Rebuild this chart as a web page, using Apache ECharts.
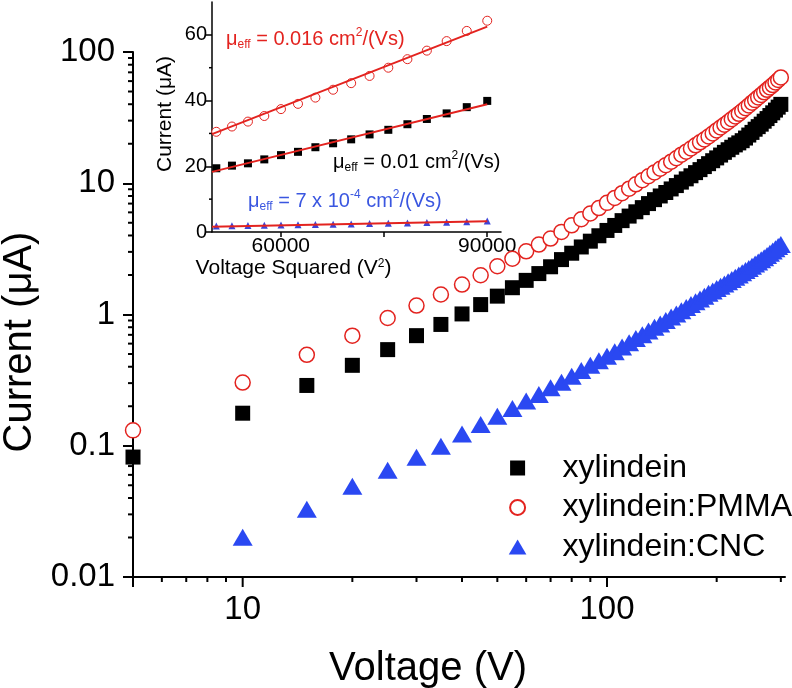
<!DOCTYPE html>
<html>
<head>
<meta charset="utf-8">
<script src="https://cdn.jsdelivr.net/npm/echarts@6/dist/echarts.min.js"></script>
<style>
html,body{margin:0;padding:0;background:#fff;}
#chart{width:792px;height:688px;}
</style>
</head>
<body>
<div id="chart"></div>
<script>
// ---------- main chart data (Voltage in V, Current in µA) ----------
const voltage = [5,10,15,20,25,30,35,40,45,50,55,60,65,70,75,80,85,90,95,100,
  105,110,115,120,125,130,135,140,145,150,155,160,165,170,175,180,185,190,195,200,
  205,210,215,220,225,230,235,240,245,250,255,260,265,270,275,280,285,290,295,300];
const currentXylindein = [0.082,0.177,0.288,0.41,0.54,0.69,0.84,1.01,1.19,1.38,1.60,1.82,2.05,2.31,2.62,2.93,3.27,3.62,3.98,4.37,
  4.77,5.19,5.62,6.06,6.52,7.0,7.5,8.0,8.5,9.05,9.6,10.2,10.8,11.4,12.05,12.7,13.4,14.1,14.85,15.6,
  16.4,17.2,18.0,18.8,19.6,20.3,21.1,22.1,23.3,24.4,25.8,27.0,28.2,29.7,31.1,32.8,34.4,36.1,38.0,39.9];
const currentPMMA = [0.131,0.303,0.493,0.69,0.94,1.17,1.42,1.69,1.99,2.33,2.66,3.03,3.41,3.79,4.26,4.78,5.32,5.88,6.47,7.09,
  7.73,8.40,9.09,9.81,10.55,11.31,12.1,12.9,13.74,14.6,15.5,16.5,17.4,18.4,19.45,20.5,21.55,22.7,23.95,25.25,
  26.6,27.9,29.3,30.8,32.3,33.8,35.5,37.3,39.1,41.1,43.0,45.1,47.1,49.3,51.5,53.7,56.0,58.6,61.2,64.0];
const currentCNC = [null,0.0201,0.0328,0.0492,0.0652,0.0819,0.0993,0.123,0.145,0.168,0.192,0.219,0.246,0.277,0.305,0.339,0.375,0.41,0.445,0.48,
  0.52,0.565,0.61,0.655,0.70,0.75,0.80,0.845,0.90,0.955,1.01,1.07,1.13,1.19,1.25,1.31,1.38,1.45,1.51,1.58,
  1.64,1.71,1.78,1.85,1.92,2.0,2.08,2.16,2.24,2.33,2.42,2.51,2.61,2.71,2.82,2.93,3.05,3.17,3.29,3.41];
const seriesNames = ['xylindein','xylindein:PMMA','xylindein:CNC'];

// main axes ticks
const xMajorTicks = [5,10,100];
const xMinorTicks = [6,7,8,9,20,30,40,50,60,70,80,90,200,300];
const yMinorTicks = [0.02,0.03,0.04,0.05,0.06,0.07,0.08,0.09,0.2,0.3,0.4,0.5,0.6,0.7,0.8,0.9,
  2,3,4,5,6,7,8,9,20,30,40,50,60,70,80,90];

// ---------- inset data (Voltage squared in V², Current in µA) ----------
const insetVSquared = [50625,52900,55225,57600,60025,62500,65025,67600,70225,72900,75625,78400,81225,84100,87025,90000];
const insetPMMA = [30.5,32.1,33.6,35.3,37.4,39.0,40.9,43.3,45.3,47.5,50.0,52.6,55.2,58.1,61.2,64.3];
const insetXylindein = [19.4,20.2,20.9,22.1,23.4,24.4,25.8,27.0,28.2,29.7,31.1,32.8,34.4,36.1,38.0,39.9];
const insetCNC = [1.85,1.9,1.98,2.05,2.12,2.2,2.28,2.37,2.46,2.56,2.66,2.76,2.88,3.0,3.15,3.35];
const fitX = [50000,90000];
const fitPMMA = [29.8,62.5];
const fitXylindein = [18.3,38.9];
const fitCNC = [1.6,3.3];
const insetXTicks = [60000,75000,90000];
const insetXLabels = [60000,90000];
const insetYTicks = [0,20,40,60];
const insetYMinorTicks = [10,30,50];

// ---------- styling ----------
const FONT = 'Liberation Sans, Arial, Helvetica, sans-serif';
const RED = '#e3231f';
const BLUE = '#2a48f2';
const INSET_BLUE = '#3c44d8';
const TEXT_BLUE = '#3a56e0';
const X_MIN = 5, X_MAX = 308, Y_MIN = 0.01, Y_MAX = 100;

const pairs = (xs, ys) => xs.map((x, i) => [x, ys[i]]);

function tickSeries(values, gridIdx, dir, len, width, baseX, baseY) {
  return {
    type: 'custom', xAxisIndex: gridIdx, yAxisIndex: gridIdx, silent: true, clip: false, z: 1,
    data: values.map(v => dir === 'x' ? [v, baseY] : [baseX, v]),
    renderItem: (params, api) => {
      const c = api.coord([api.value(0), api.value(1)]);
      const shape = dir === 'x'
        ? {x1: c[0], y1: c[1], x2: c[0], y2: c[1] + len}
        : {x1: c[0] - len, y1: c[1], x2: c[0], y2: c[1]};
      return {type: 'line', shape: shape, style: {stroke: '#000', lineWidth: width}};
    }
  };
}

const richBase = (color) => ({
  t: {fontSize: 20, lineHeight: 24, fontFamily: FONT, fill: color},
  s: {fontSize: 12, lineHeight: 9, verticalAlign: 'bottom', fontFamily: FONT, fill: color},
  p: {fontSize: 12, lineHeight: 12, verticalAlign: 'top', fontFamily: FONT, fill: color}
});

const chart = echarts.init(document.getElementById('chart'), null, {renderer: 'canvas'});
chart.setOption({
  animation: false,
  backgroundColor: '#fff',
  textStyle: {fontFamily: FONT},
  grid: [
    {left: 133, right: 7, top: 52, bottom: 111, containLabel: false, outerBoundsMode: 'none'},
    {left: 212, top: 2, width: 289, height: 230, containLabel: false, outerBoundsMode: 'none'}
  ],
  xAxis: [
    {
      type: 'log', gridIndex: 0, min: X_MIN, max: X_MAX,
      name: 'Voltage (V)', nameLocation: 'middle', nameGap: 72,
      nameTextStyle: {fontSize: 40, color: '#000', fontFamily: FONT, padding: [0, 62, 0, 0]},
      axisLine: {lineStyle: {color: '#000', width: 2}},
      axisTick: {show: false},
      splitLine: {show: false},
      axisLabel: {
        fontSize: 33, color: '#000', fontFamily: FONT, margin: 16,
        showMinLabel: false, showMaxLabel: false,
        formatter: v => { const l = Math.log10(v); return Math.abs(l - Math.round(l)) < 1e-6 ? String(Math.round(v)) : ''; }
      }
    },
    {
      type: 'value', gridIndex: 1, min: 50000, max: 92000,
      name: 'Voltage Squared (V{sup|2})', nameLocation: 'middle', nameGap: 21,
      nameTextStyle: {fontSize: 21, color: '#000', fontFamily: FONT, padding: [0, 126, 0, 0],
        rich: {sup: {fontSize: 12, verticalAlign: 'top', lineHeight: 12, color: '#000', fontFamily: FONT}}},
      axisLine: {lineStyle: {color: '#000', width: 1.5}},
      axisTick: {customValues: insetXTicks, length: 5, lineStyle: {color: '#000', width: 1.5}},
      splitLine: {show: false},
      axisLabel: {customValues: insetXLabels, fontSize: 21, color: '#000', fontFamily: FONT, margin: 4,
        formatter: v => String(v)}
    }
  ],
  yAxis: [
    {
      type: 'log', gridIndex: 0, min: Y_MIN, max: Y_MAX,
      name: 'Current (μA)', nameLocation: 'middle', nameGap: 92,
      nameTextStyle: {fontSize: 40, color: '#000', fontFamily: FONT, padding: [0, 55, 0, 0]},
      axisLine: {lineStyle: {color: '#000', width: 2}},
      axisTick: {length: 10, lineStyle: {color: '#000', width: 2}},
      splitLine: {show: false},
      axisLabel: {fontSize: 33, color: '#000', fontFamily: FONT, margin: 18,
        formatter: v => String(+Number(v).toPrecision(3))}
    },
    {
      type: 'value', gridIndex: 1, min: 0, max: 70,
      name: 'Current (μA)', nameLocation: 'middle', nameGap: 36,
      nameTextStyle: {fontSize: 21, color: '#000', fontFamily: FONT, padding: [0, 0, 0, 6]},
      axisLine: {lineStyle: {color: '#000', width: 1.5}},
      axisTick: {customValues: insetYTicks, length: 6, lineStyle: {color: '#000', width: 1.5}},
      splitLine: {show: false},
      axisLabel: {customValues: insetYTicks, fontSize: 20, color: '#000', fontFamily: FONT, margin: 5,
        formatter: v => String(v)}
    }
  ],
  legend: {
    orient: 'vertical', right: 0, top: 452, padding: 0,
    itemWidth: 80, itemHeight: 15, itemGap: 7.5,
    selectedMode: false,
    textStyle: {fontSize: 32, lineHeight: 32, color: '#000', fontFamily: FONT},
    data: [
      {name: seriesNames[0], icon: 'path://M0,0L10,0L10,10L0,10Z'},
      {name: seriesNames[1], icon: 'circle'},
      {name: seriesNames[2], icon: 'path://M10,0L20,17L0,17Z'}
    ]
  },
  graphic: [
    {type: 'text', left: 226, top: 27, z: 10,
      style: {text: '{t|μ}{s|eff}{t| = 0.016 cm}{p|2}{t|/(Vs)}', rich: richBase(RED), fill: RED}},
    {type: 'text', left: 333, top: 150, z: 10,
      style: {text: '{t|μ}{s|eff}{t| = 0.01 cm}{p|2}{t|/(Vs)}', rich: richBase('#000'), fill: '#000'}},
    {type: 'text', left: 248, top: 189, z: 10,
      style: {text: '{t|μ}{s|eff}{t| = 7 x 10}{p|-4}{t| cm}{p|2}{t|/(Vs)}', rich: richBase(TEXT_BLUE), fill: TEXT_BLUE}}
  ],
  series: [
    // main log-log chart
    {name: seriesNames[0], type: 'scatter', xAxisIndex: 0, yAxisIndex: 0,
      data: pairs(voltage, currentXylindein), symbol: 'rect', symbolSize: 15,
      itemStyle: {color: '#000', opacity: 1}},
    {name: seriesNames[1], type: 'scatter', xAxisIndex: 0, yAxisIndex: 0,
      data: pairs(voltage, currentPMMA), symbol: 'circle', symbolSize: 15,
      itemStyle: {color: '#fff', borderColor: RED, borderWidth: 1.5, opacity: 1}},
    {name: seriesNames[2], type: 'scatter', xAxisIndex: 0, yAxisIndex: 0,
      data: pairs(voltage, currentCNC), symbol: 'triangle', symbolSize: [20, 17],
      itemStyle: {color: BLUE, opacity: 1}},
    // custom axis ticks for main chart
    tickSeries(xMajorTicks, 0, 'x', 10, 2, X_MIN, Y_MIN),
    tickSeries(xMinorTicks, 0, 'x', 5, 2, X_MIN, Y_MIN),
    tickSeries(yMinorTicks, 0, 'y', 5, 2, X_MIN, Y_MIN),
    tickSeries(insetYMinorTicks, 1, 'y', 3, 1.5, 50000, 0),
    // inset
    {name: 'inset xylindein', type: 'scatter', xAxisIndex: 1, yAxisIndex: 1,
      data: pairs(insetVSquared, insetXylindein), symbol: 'rect', symbolSize: 8,
      itemStyle: {color: '#000', opacity: 1}},
    {name: 'inset PMMA', type: 'scatter', xAxisIndex: 1, yAxisIndex: 1,
      data: pairs(insetVSquared, insetPMMA), symbol: 'circle', symbolSize: 9,
      itemStyle: {color: '#fff', borderColor: RED, borderWidth: 1, opacity: 1}},
    {name: 'inset CNC', type: 'scatter', xAxisIndex: 1, yAxisIndex: 1,
      data: pairs(insetVSquared, insetCNC), symbol: 'triangle', symbolSize: 7,
      itemStyle: {color: INSET_BLUE, opacity: 1}},
    {name: 'fit PMMA', type: 'line', xAxisIndex: 1, yAxisIndex: 1, z: 5,
      data: pairs(fitX, fitPMMA), symbol: 'none', lineStyle: {color: RED, width: 2}},
    {name: 'fit xylindein', type: 'line', xAxisIndex: 1, yAxisIndex: 1, z: 5,
      data: pairs(fitX, fitXylindein), symbol: 'none', lineStyle: {color: RED, width: 2}},
    {name: 'fit CNC', type: 'line', xAxisIndex: 1, yAxisIndex: 1, z: 5,
      data: pairs(fitX, fitCNC), symbol: 'none', lineStyle: {color: RED, width: 2}}
  ]
});
</script>
</body>
</html>
